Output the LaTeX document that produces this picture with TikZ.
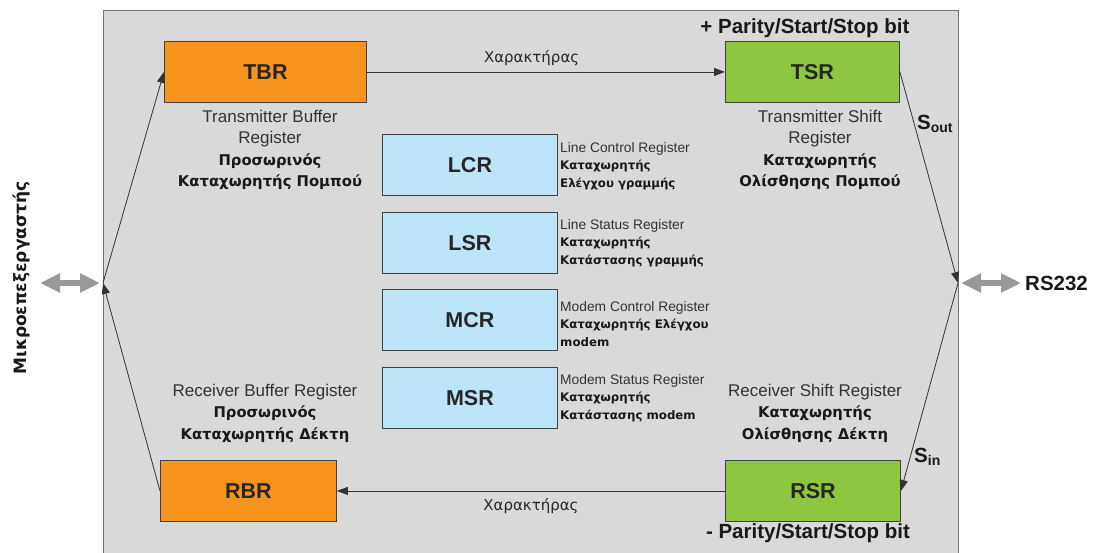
\documentclass[tikz,border=0pt]{standalone}
\usepackage{fontspec}
\setmainfont{Liberation Sans}
\newfontfamily\grk{DejaVu Sans}
\usetikzlibrary{arrows.meta}
\definecolor{panel}{HTML}{D9D9D9}
\definecolor{orangebox}{HTML}{F7941D}
\definecolor{greenbox}{HTML}{8DC63F}
\definecolor{bluebox}{HTML}{BDE5F8}
\definecolor{txtgray}{HTML}{333333}
\definecolor{bigarrow}{HTML}{999999}
\newcommand{\gbd}{\grk\fontsize{14.8}{21.5}\selectfont\bfseries\color{black!90}}
\newcommand{\gsd}{\grk\fontsize{11.8}{17.5}\selectfont\bfseries\color{black!90}}
\begin{document}
\begin{tikzpicture}[x=1pt,y=-1pt,
  reg/.style={draw=black!75, line width=0.9pt, anchor=north west, inner sep=0pt,
    font=\fontsize{21.5}{22}\selectfont\bfseries, text=black!85},
  orangereg/.style={reg, fill=orangebox, minimum height=61pt},
  greenreg/.style={reg, fill=greenbox, minimum height=61pt},
  bluereg/.style={reg, fill=bluebox, minimum width=175pt, minimum height=61pt},
  desc/.style={align=center, font=\fontsize{17}{21.5}\selectfont, text=txtgray, inner sep=0pt},
  side/.style={align=left, anchor=west, font=\fontsize{13.8}{17.5}\selectfont, text=txtgray, inner sep=0pt},
  conn/.style={draw=black!80, line width=0.8pt, -{Triangle[length=11pt,width=8pt]}},
  wide/.style={draw=bigarrow, line width=6pt, {Triangle[length=20pt,width=18pt]}-{Triangle[length=20pt,width=18pt]}},
  bigtext/.style={font=\fontsize{20.5}{22}\selectfont\bfseries, text=black!90, inner sep=0pt},
  chlab/.style={font=\grk\fontsize{15}{16}\selectfont, text=black!85, inner sep=0pt}]
\useasboundingbox (0,0) rectangle (1095,552);
\fill[white] (0,0) rectangle (1095,552);
\draw[fill=panel, draw=black!55, line width=0.8pt] (103,10) rectangle (958,560);

% main registers
\node[orangereg, minimum width=202pt] (tbr) at (164,41) {TBR};
\node[greenreg, minimum width=174pt] (tsr) at (725,41) {TSR};
\node[orangereg, minimum width=176pt] (rbr) at (160,460) {RBR};
\node[greenreg, minimum width=175pt] (rsr) at (725,460) {RSR};

% control registers
\node[bluereg] (lcr) at (382,134) {LCR};
\node[bluereg] (lsr) at (382,212) {LSR};
\node[bluereg] (mcr) at (382,289) {MCR};
\node[bluereg] (msr) at (382,367) {MSR};

\node[side] (lcrt) at (560,166) {Line Control Register\\{\gsd Καταχωρητής}\\{\gsd Ελέγχου γραμμής}};
\node[side] (lsrt) at (560,243) {Line Status Register\\{\gsd Καταχωρητής}\\{\gsd Κατάστασης γραμμής}};
\node[side] (mcrt) at (560,324) {Modem Control Register\\{\gsd Καταχωρητής Ελέγχου}\\{\gsd modem}};
\node[side] (msrt) at (560,398) {Modem Status Register\\{\gsd Καταχωρητής}\\{\gsd Κατάστασης modem}};

% descriptions
\node[desc] (tbrt) at (270,150) {Transmitter Buffer\\Register\\{\gbd Προσωρινός}\\{\gbd Καταχωρητής Πομπού}};
\node[desc] (tsrt) at (820,150) {Transmitter Shift\\Register\\{\gbd Καταχωρητής}\\{\gbd Ολίσθησης Πομπού}};
\node[desc] (rbrt) at (265,413) {Receiver Buffer Register\\{\gbd Προσωρινός}\\{\gbd Καταχωρητής Δέκτη}};
\node[desc] (rsrt) at (815,413) {Receiver Shift Register\\{\gbd Καταχωρητής}\\{\gbd Ολίσθησης Δέκτη}};

\node[bigtext] (ptop) at (805,28) {+ Parity/Start/Stop bit};
\node[bigtext] (pbot) at (808,533) {- Parity/Start/Stop bit};

% junctions
\coordinate (lj) at (103,283);
\coordinate (rj) at (958,283);

% connectors
\draw[conn] (lj) -- (tbr.west);
\draw[conn] (rbr.west) -- (lj);
\draw[conn] (tsr.east) -- (rj);
\draw[conn] (rj) -- (rsr.east);
\draw[conn] (tbr.east) -- node[pos=0.46, above=6pt, chlab] (ch1) {Χαρακτήρας} (tsr.west);
\draw[conn] (rsr.west) -- node[below=7pt, chlab] (ch2) {Χαρακτήρας} (rbr.east);

\node[bigtext, anchor=west] (sout) at (917,124) {S\textsubscript{\fontsize{14}{15}\selectfont out}};
\node[bigtext, anchor=west] (sin) at (914,457) {S\textsubscript{\fontsize{14}{15}\selectfont in}};

% external arrows
\coordinate (la) at (40,283);
\coordinate (lb) at (100,283);
\coordinate (ra) at (961,283);
\coordinate (rb) at (1021,283);
\draw[wide] (la) -- (lb);
\draw[wide] (ra) -- (rb);
\node[bigtext, anchor=west] (rs) at (1025,283) {RS232};
\node[font=\grk\fontsize{17}{20}\selectfont\bfseries, text=black!90, rotate=90, inner sep=0pt] (mp) at (21,278) {Μικροεπεξεργαστής};
\end{tikzpicture}
\end{document}
